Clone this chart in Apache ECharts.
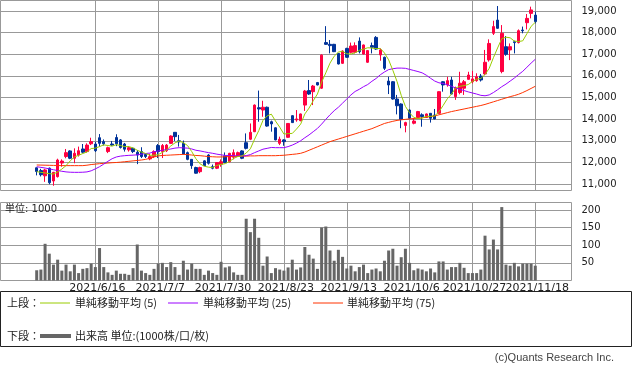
<!DOCTYPE html>
<html><head><meta charset="utf-8">
<script src="https://cdn.jsdelivr.net/npm/echarts@6/dist/echarts.min.js"></script>
<style>html,body{margin:0;padding:0;background:#fff}#c{width:633px;height:372px}</style>
</head><body><div id="c"></div>
<script>
const dates = ['2021/5/27','2021/5/28','2021/5/31','2021/6/1','2021/6/2','2021/6/3','2021/6/4','2021/6/7','2021/6/8','2021/6/9','2021/6/10','2021/6/11','2021/6/14','2021/6/15','2021/6/16','2021/6/17','2021/6/18','2021/6/21','2021/6/22','2021/6/23','2021/6/24','2021/6/25','2021/6/28','2021/6/29','2021/6/30','2021/7/1','2021/7/2','2021/7/5','2021/7/6','2021/7/7','2021/7/8','2021/7/9','2021/7/12','2021/7/13','2021/7/14','2021/7/15','2021/7/16','2021/7/19','2021/7/20','2021/7/21','2021/7/26','2021/7/27','2021/7/28','2021/7/29','2021/7/30','2021/8/2','2021/8/3','2021/8/4','2021/8/5','2021/8/6','2021/8/10','2021/8/11','2021/8/12','2021/8/13','2021/8/16','2021/8/17','2021/8/18','2021/8/19','2021/8/20','2021/8/23','2021/8/24','2021/8/25','2021/8/26','2021/8/27','2021/8/30','2021/8/31','2021/9/1','2021/9/2','2021/9/3','2021/9/6','2021/9/7','2021/9/8','2021/9/9','2021/9/10','2021/9/13','2021/9/14','2021/9/15','2021/9/16','2021/9/17','2021/9/21','2021/9/22','2021/9/24','2021/9/27','2021/9/28','2021/9/29','2021/9/30','2021/10/1','2021/10/4','2021/10/5','2021/10/6','2021/10/7','2021/10/8','2021/10/11','2021/10/12','2021/10/13','2021/10/14','2021/10/15','2021/10/18','2021/10/19','2021/10/20','2021/10/21','2021/10/22','2021/10/25','2021/10/26','2021/10/27','2021/10/28','2021/10/29','2021/11/1','2021/11/2','2021/11/4','2021/11/5','2021/11/8','2021/11/9','2021/11/10','2021/11/11','2021/11/12','2021/11/15','2021/11/16','2021/11/17','2021/11/18'];

const openP = [11750,11620,11380,11730,11140,11340,11970,12270,12530,12190,12340,12620,12500,12860,12850,13140,12960,12500,12850,13150,13040,12850,12580,12650,12470,12500,12370,12160,12270,12780,12500,12540,12880,13390,13000,12880,12450,12140,11760,11570,12070,12340,11800,11730,11910,12300,12030,12240,12300,12530,12910,13070,13420,14530,14420,14550,13880,13600,12880,13040,13160,14160,13960,13930,14650,15320,15270,15690,15430,17540,17460,17460,17040,16580,17270,17090,17090,17610,17010,16630,17400,17780,16970,16860,15760,15730,14930,14700,13710,14420,13810,14080,14200,14080,14270,14190,14270,15730,15580,15810,15040,15230,15430,15840,15730,15780,15990,16090,16740,17970,18580,16200,17350,17200,17580,17540,18120,18460,18890,18810];
const closeP = [11580,11430,11650,11060,11540,12110,12060,12450,12190,12420,12540,12470,12800,12960,12540,12880,12860,12680,12800,12860,12690,12610,12680,12500,12340,12270,12270,12265,12500,12500,12780,12800,13220,13190,12950,12390,12140,11850,11500,11760,11850,11960,11730,11990,12030,12000,12420,12450,12450,12190,12650,13390,14650,14470,14550,13680,13780,13040,13070,12960,13800,13840,14010,14240,15300,15160,15530,15580,16960,17460,17400,17120,16550,17150,16860,17380,17400,17120,17430,17170,17320,17240,17200,16350,15580,14930,14620,13990,13840,14040,13910,14350,14120,14240,14040,14010,15270,15580,15780,15160,15420,15660,15730,16040,15860,15960,15810,16630,17500,18280,18200,17970,17000,17350,17540,18090,18090,18660,19050,18510];
const lowP = [11400,11350,11100,10990,10920,11300,11800,12190,12150,11960,12270,12420,12450,12800,12480,12730,12780,12430,12760,12750,12640,12500,12500,12430,11920,12200,12200,12100,12200,12200,12200,12480,12850,12990,12730,12370,12100,11700,11480,11500,11830,11900,11680,11690,11800,11960,12000,12140,12270,12150,12600,13030,13400,13880,14110,13650,13420,13020,12800,12770,13140,13820,13880,13900,14380,15120,14650,15560,15400,17430,17040,17100,16530,16550,16840,17040,17040,17040,16990,16600,17040,17200,16700,16270,15160,14900,14220,13580,13390,14000,13760,14050,13650,14060,13840,13990,14250,15270,15500,15140,14890,15150,15120,15830,15650,15730,15740,16040,16660,17890,18180,16120,16930,16730,17040,17500,17970,18150,18660,18430];
const highP = [11760,11700,11700,11760,11560,12170,12140,12620,12560,12650,12730,12850,12880,13140,12950,13310,13060,12730,12990,13300,13080,12900,12750,12680,12570,12700,12420,12400,12560,12850,12850,12850,13250,13400,13270,13010,12500,12150,11800,11800,12100,12380,11900,12000,12140,12460,12440,12600,12500,12560,13340,13800,14680,15320,14850,14580,13930,13620,13190,13070,13820,14180,14420,14260,15350,15810,15580,15720,17000,18300,17660,17480,17060,17180,17300,17540,17550,17780,17450,17190,17540,17840,17270,16890,15960,15760,15120,14730,13880,14450,14040,14380,14270,14260,14280,14470,15290,15760,15960,15960,15500,16190,15810,16190,16230,16120,16090,17200,17690,18550,19230,18350,17840,17500,17630,18150,18280,18860,19200,18970];

const volume = [29,31,104,76,45,59,28,45,26,45,21,33,35,48,38,92,38,23,16,28,19,19,16,35,102,28,21,16,33,48,50,38,52,38,16,56,31,48,33,33,16,28,21,16,53,37,40,23,16,16,175,137,175,121,42,68,21,35,31,28,37,59,31,37,95,73,62,33,150,153,85,56,87,67,34,42,26,38,45,21,31,34,26,56,85,90,42,66,90,50,29,34,31,26,34,23,54,54,31,38,38,50,36,21,21,21,31,127,88,116,88,208,45,42,50,40,48,48,48,42];

const ma5 = [11570,11540,11510,11480,11460,11560,11690,11850,12070,12250,12330,12410,12480,12640,12660,12730,12810,12780,12750,12820,12780,12730,12730,12670,12560,12480,12410,12330,12330,12360,12460,12570,12760,12900,12990,12910,12780,12500,12170,11930,11820,11780,11760,11860,11910,11940,12040,12180,12270,12300,12430,12630,13070,13470,13940,14150,14230,13910,13630,13310,13330,13340,13540,13770,14240,14510,14850,15160,15710,16140,16590,16910,17100,17140,17020,17010,17070,17180,17240,17300,17290,17260,17270,17060,16740,16260,15740,15100,14590,14290,14080,14030,14050,14130,14130,14150,14340,14630,14940,15160,15440,15520,15550,15600,15740,15850,15880,16060,16350,16840,17290,17720,17790,17760,17610,17590,17620,17950,18290,18480];
const ma25 = [11800,11770,11740,11700,11660,11620,11590,11560,11545,11540,11540,11545,11560,11610,11700,11800,11920,12050,12170,12250,12290,12310,12325,12335,12350,12380,12410,12430,12490,12530,12560,12590,12620,12660,12680,12670,12660,12620,12560,12530,12490,12450,12420,12380,12350,12320,12320,12310,12300,12300,12310,12360,12450,12530,12610,12650,12690,12680,12680,12680,12730,12800,12890,13000,13140,13270,13420,13570,13770,13990,14200,14390,14550,14740,14930,15120,15280,15380,15500,15600,15750,15880,16050,16180,16290,16330,16360,16360,16350,16300,16250,16200,16140,16030,15890,15760,15680,15650,15590,15520,15440,15380,15320,15260,15210,15160,15100,15080,15120,15230,15360,15500,15620,15760,15900,16060,16210,16400,16590,16770];
const ma75 = [11880,11875,11870,11865,11860,11855,11850,11850,11850,11850,11850,11850,11870,11900,11920,11940,11955,11970,11985,11995,12010,12030,12050,12070,12090,12110,12140,12190,12250,12300,12320,12330,12340,12350,12360,12370,12360,12340,12320,12310,12290,12270,12260,12250,12250,12260,12270,12270,12280,12290,12290,12300,12300,12310,12310,12310,12310,12310,12320,12330,12350,12370,12390,12420,12480,12560,12640,12720,12800,12880,12960,13020,13080,13140,13200,13260,13320,13380,13440,13500,13560,13640,13720,13800,13850,13900,13940,13970,13990,14010,14030,14040,14060,14090,14120,14150,14200,14250,14300,14350,14390,14430,14470,14510,14550,14590,14630,14680,14740,14800,14860,14920,14980,15040,15090,15150,15230,15320,15420,15520];

const priceTicks = [11000,12000,13000,14000,15000,16000,17000,18000,19000];
const volTicks = [50,100,150,200];
const dateTicks = ['2021/6/16','2021/7/7','2021/7/30','2021/8/23','2021/9/13','2021/10/6','2021/10/27','2021/11/18'];

const UP = '#ff0040', DOWN = '#003399';
const GRID_C = '#999999';
const tickIdx = dateTicks.map(d => dates.indexOf(d));
const evenIdx = tickIdx.filter((v, k) => k % 2 === 0);
const oddIdx = tickIdx.filter((v, k) => k % 2 === 1);
const candles = dates.map((d, i) => [i, openP[i], closeP[i], lowP[i], highP[i]]);
const toXY = arr => arr.map((v, i) => [i, v]);
const fmtNum = v => String(v).replace(/\B(?=(\d{3})+(?!\d))/g, ',');

const X_MIN = -8.64, X_MAX = 127.64;
const chart = echarts.init(document.getElementById('c'));
const cjk = "'Noto Sans CJK JP', sans-serif";
const lat = "'DejaVu Sans', sans-serif";

const dateLabel = (vals) => ({show: true, customValues: vals, hideOverlap: false, showMinLabel: true, showMaxLabel: true, margin: 2,
  formatter: v => dates[Math.round(v)] || '', fontSize: 11, fontFamily: lat, color: '#222', padding: [0, 0, 0, 4]});

const legendRow1 = 303, legendRow2 = 336;
function legLine(x1, x2, y, color, w) {
  return {type: 'line', shape: {x1: x1, y1: y, x2: x2, y2: y}, style: {stroke: color, lineWidth: w}, silent: true};
}
function legText(x, y, text) {
  return {type: 'text', x: x, y: y, style: {text: text, font: '11px ' + cjk, fill: '#222', verticalAlign: 'middle'}, silent: true};
}

chart.setOption({
  animation: false,
  grid: [
    {left: 0.5, top: 0.5, width: 571, height: 190, show: true, borderColor: GRID_C, borderWidth: 1, backgroundColor: 'transparent'},
    {left: 0.5, top: 202.5, width: 571, height: 78, show: true, borderColor: GRID_C, borderWidth: 1, backgroundColor: 'transparent'}
  ],
  xAxis: [
    {type: 'value', gridIndex: 0, min: X_MIN, max: X_MAX,
     axisLine: {show: false}, axisTick: {show: false, customValues: tickIdx},
     axisLabel: {show: false, customValues: tickIdx},
     splitLine: {show: true, lineStyle: {color: GRID_C, width: 1}}},
    {type: 'value', gridIndex: 1, min: X_MIN, max: X_MAX, position: 'bottom', offset: 0,
     axisLine: {show: false}, axisTick: {show: false, customValues: tickIdx},
     axisLabel: Object.assign(dateLabel(evenIdx)),
     splitLine: {show: true, lineStyle: {color: GRID_C, width: 1}}},
    {type: 'value', gridIndex: 1, min: X_MIN, max: X_MAX, position: 'bottom', offset: 0,
     axisLine: {show: false}, axisTick: {show: false, customValues: oddIdx},
     axisLabel: dateLabel(oddIdx),
     splitLine: {show: false}}
  ],
  yAxis: [
    {type: 'value', gridIndex: 0, position: 'right', min: 10700, max: 19486,
     axisLine: {show: false},
     axisTick: {show: true, inside: false, length: 4, lineStyle: {color: GRID_C}, customValues: priceTicks},
     axisLabel: {customValues: priceTicks, formatter: fmtNum, margin: 10, fontSize: 10, fontFamily: lat, color: '#222'},
     splitLine: {show: true, lineStyle: {color: GRID_C, width: 1}}},
    {type: 'value', gridIndex: 1, position: 'right', min: 0, max: 221,
     axisLine: {show: false},
     axisTick: {show: true, inside: false, length: 4, lineStyle: {color: GRID_C}, customValues: volTicks},
     axisLabel: {customValues: volTicks, margin: 10, fontSize: 10, fontFamily: lat, color: '#222'},
     splitLine: {show: true, lineStyle: {color: GRID_C, width: 1}}}
  ],
  series: [
    {type: 'candlestick', xAxisIndex: 0, yAxisIndex: 0, data: candles, barWidth: 3,
     itemStyle: {color: UP, color0: DOWN, borderColor: UP, borderColor0: DOWN, borderWidth: 1}, z: 2},
    {type: 'line', xAxisIndex: 0, yAxisIndex: 0, data: toXY(ma75), symbol: 'none', lineStyle: {color: '#ff3300', width: 1}, z: 3},
    {type: 'line', xAxisIndex: 0, yAxisIndex: 0, data: toXY(ma25), symbol: 'none', lineStyle: {color: '#9900ff', width: 1}, z: 3},
    {type: 'line', xAxisIndex: 0, yAxisIndex: 0, data: toXY(ma5), symbol: 'none', lineStyle: {color: '#99cc00', width: 1}, z: 4},
    {type: 'bar', xAxisIndex: 1, yAxisIndex: 1, data: toXY(volume), barWidth: 3, itemStyle: {color: '#666666'}}
  ],
  graphic: [
    {type: 'text', x: 5, y: 209, z: 100, style: {text: '単位: 1000', font: '10px ' + lat + ", 'Noto Sans CJK JP'", fill: '#222', verticalAlign: 'middle'}, silent: true},
    {type: 'rect', shape: {x: 0.5, y: 291.5, width: 631, height: 55}, style: {fill: 'none', stroke: '#222', lineWidth: 1}, silent: true},
    legText(7, legendRow1, '上段：'),
    legLine(40, 70, legendRow1, '#99cc00', 1),
    legText(75, legendRow1, '単純移動平均 (5)'),
    legLine(168, 198, legendRow1, '#9900ff', 1),
    legText(203, legendRow1, '単純移動平均 (25)'),
    legLine(313, 343, legendRow1, '#ff3300', 1),
    legText(347, legendRow1, '単純移動平均 (75)'),
    legText(7, legendRow2, '下段：'),
    legLine(40, 71, legendRow2, '#666666', 4),
    legText(75, legendRow2, '出来高 単位:(1000株/口/枚)'),
    {type: 'text', x: 614, y: 358, style: {text: '(c)Quants Research Inc.', font: "11px 'Liberation Sans', sans-serif", fill: '#444', align: 'right', verticalAlign: 'middle'}, silent: true}
  ]
});
</script>
</body></html>
